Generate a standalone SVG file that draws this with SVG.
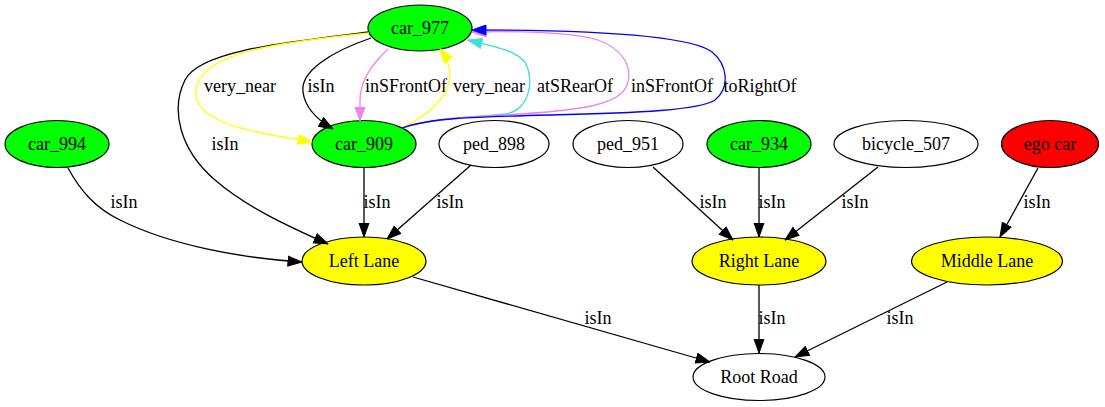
<svg xmlns="http://www.w3.org/2000/svg" width="1105" height="407" viewBox="0 0 1105 407">
  <style>
    text { font-family: "Liberation Serif", "Times New Roman", serif; font-size: 18px; fill: #000; text-anchor: middle; }
    .node ellipse { stroke: #000; stroke-width: 1.2; }
    .car { fill: #00ff00; }
    .lane { fill: #ffff00; }
    .ego { fill: #ff0000; }
    .plain { fill: #ffffff; }
    .edge { fill: none; stroke-width: 1.3; }
    .k { stroke: #000; }
    .y { stroke: #ffff00; }
    .v { stroke: #ee82ee; }
    .t { stroke: #40e0d0; }
    .b { stroke: #0000ff; }
  </style>
  <defs>
    <marker id="ah-k" markerUnits="userSpaceOnUse" markerWidth="15" markerHeight="12" viewBox="0 0 15 12" refX="14.5" refY="6" orient="auto">
      <path d="M0.5,1 L14.5,6 L0.5,11 z" fill="#000" stroke="#000"/>
    </marker>
    <marker id="ah-y" markerUnits="userSpaceOnUse" markerWidth="15" markerHeight="12" viewBox="0 0 15 12" refX="14.5" refY="6" orient="auto">
      <path d="M0.5,1 L14.5,6 L0.5,11 z" fill="#ffff00" stroke="#ffff00"/>
    </marker>
    <marker id="ah-v" markerUnits="userSpaceOnUse" markerWidth="15" markerHeight="12" viewBox="0 0 15 12" refX="14.5" refY="6" orient="auto">
      <path d="M0.5,1 L14.5,6 L0.5,11 z" fill="#ee82ee" stroke="#ee82ee"/>
    </marker>
    <marker id="ah-t" markerUnits="userSpaceOnUse" markerWidth="15" markerHeight="12" viewBox="0 0 15 12" refX="14.5" refY="6" orient="auto">
      <path d="M0.5,1 L14.5,6 L0.5,11 z" fill="#40e0d0" stroke="#40e0d0"/>
    </marker>
    <marker id="ah-b" markerUnits="userSpaceOnUse" markerWidth="15" markerHeight="12" viewBox="0 0 15 12" refX="14.5" refY="6" orient="auto">
      <path d="M0.5,1 L14.5,6 L0.5,11 z" fill="#0000ff" stroke="#0000ff"/>
    </marker>
  </defs>

  <!-- nodes -->
  <g id="car_977" class="node"><ellipse class="car" cx="420" cy="28" rx="52" ry="23"/><text x="420" y="34">car_977</text></g>
  <g id="car_994" class="node"><ellipse class="car" cx="57" cy="144" rx="52" ry="23.5"/><text x="57" y="150">car_994</text></g>
  <g id="car_909" class="node"><ellipse class="car" cx="364" cy="144" rx="52" ry="23.5"/><text x="364" y="150">car_909</text></g>
  <g id="ped_898" class="node"><ellipse class="plain" cx="494" cy="144" rx="55" ry="23.5"/><text x="494" y="150">ped_898</text></g>
  <g id="ped_951" class="node"><ellipse class="plain" cx="628" cy="144" rx="55" ry="23.5"/><text x="628" y="150">ped_951</text></g>
  <g id="car_934" class="node"><ellipse class="car" cx="759" cy="144" rx="52" ry="23.5"/><text x="759" y="150">car_934</text></g>
  <g id="bicycle_507" class="node"><ellipse class="plain" cx="906" cy="144" rx="72" ry="23.5"/><text x="906" y="150">bicycle_507</text></g>
  <g id="ego_car" class="node"><ellipse class="ego" cx="1050" cy="144" rx="48.5" ry="23.5"/><text x="1050" y="150">ego car</text></g>
  <g id="left_lane" class="node"><ellipse class="lane" cx="364" cy="261" rx="62" ry="24"/><text x="364" y="267">Left Lane</text></g>
  <g id="right_lane" class="node"><ellipse class="lane" cx="759" cy="261" rx="67" ry="24"/><text x="759" y="267">Right Lane</text></g>
  <g id="middle_lane" class="node"><ellipse class="lane" cx="987" cy="261" rx="75.5" ry="24"/><text x="987" y="267">Middle Lane</text></g>
  <g id="root_road" class="node"><ellipse class="plain" cx="759" cy="377" rx="66" ry="23.5"/><text x="759" y="383">Root Road</text></g>

  <!-- connectors -->
  <g id="connectors">
    <!-- car_977 -> Left Lane -->
    <path class="edge k" marker-end="url(#ah-k)" d="M369,32 C290,42 200,50 185,80 C170,110 180,150 215,180 C245,206 285,225 328,244"/>
    <text x="225" y="150">isIn</text>
    <!-- car_977 -> car_909 -->
    <path class="edge y" marker-end="url(#ah-y)" d="M369,33 C280,42 200,52 196,90 C192,125 260,133 312,142"/>
    <text x="240" y="92">very_near</text>
    <path class="edge k" marker-end="url(#ah-k)" d="M371,38 C330,52 300,72 303,92 C305,108 316,119 333,129"/>
    <text x="321" y="92">isIn</text>
    <path class="edge v" marker-end="url(#ah-v)" d="M388,49 C372,64 360,82 360,100 L360,121"/>
    <text x="406" y="92">inSFrontOf</text>
    <!-- car_909 -> car_977 -->
    <path class="edge y" marker-end="url(#ah-y)" d="M403,127 C430,115 450,95 450,75 C450,65 446,57 440,49"/>
    <text x="489" y="92">very_near</text>
    <path class="edge t" marker-end="url(#ah-t)" d="M403,128 C430,118 480,117 505,114 C530,110 535,80 525,62 C515,50 492,46 468,40"/>
    <text x="575" y="92">atSRearOf</text>
    <path class="edge v" marker-end="url(#ah-v)" d="M402,128 C430,118 470,117 520,114 C580,110 620,105 627,85 C634,65 620,48 598,40 C570,32 520,31 472,32"/>
    <text x="672" y="92">inSFrontOf</text>
    <path class="edge b" marker-end="url(#ah-b)" d="M402,128 C430,118 470,117 550,115 C640,113 700,110 715,100 C730,88 728,65 712,52 C690,36 600,30 472,30"/>
    <text x="760" y="92">toRightOf</text>
    <!-- into Left Lane -->
    <path class="edge k" marker-end="url(#ah-k)" d="M68,168 C80,190 95,208 120,220 C170,245 240,258 302,262"/>
    <text x="124" y="208">isIn</text>
    <path class="edge k" marker-end="url(#ah-k)" d="M364,168 L364,237"/>
    <text x="377" y="208">isIn</text>
    <path class="edge k" marker-end="url(#ah-k)" d="M471,165 L387,239"/>
    <text x="450" y="208">isIn</text>
    <!-- into Right Lane -->
    <path class="edge k" marker-end="url(#ah-k)" d="M653,167 L733,240"/>
    <text x="713" y="208">isIn</text>
    <path class="edge k" marker-end="url(#ah-k)" d="M759,168 L759,237"/>
    <text x="772" y="208">isIn</text>
    <path class="edge k" marker-end="url(#ah-k)" d="M878,167 L785,240"/>
    <text x="855" y="208">isIn</text>
    <!-- into Middle Lane -->
    <path class="edge k" marker-end="url(#ah-k)" d="M1038,168 L1000,237"/>
    <text x="1037" y="208">isIn</text>
    <!-- into Root Road -->
    <path class="edge k" marker-end="url(#ah-k)" d="M413,277 L710,362"/>
    <text x="598" y="324">isIn</text>
    <path class="edge k" marker-end="url(#ah-k)" d="M759,285 L759,353"/>
    <text x="772" y="324">isIn</text>
    <path class="edge k" marker-end="url(#ah-k)" d="M947,282 L795,357"/>
    <text x="900" y="324">isIn</text>
  </g>
</svg>
